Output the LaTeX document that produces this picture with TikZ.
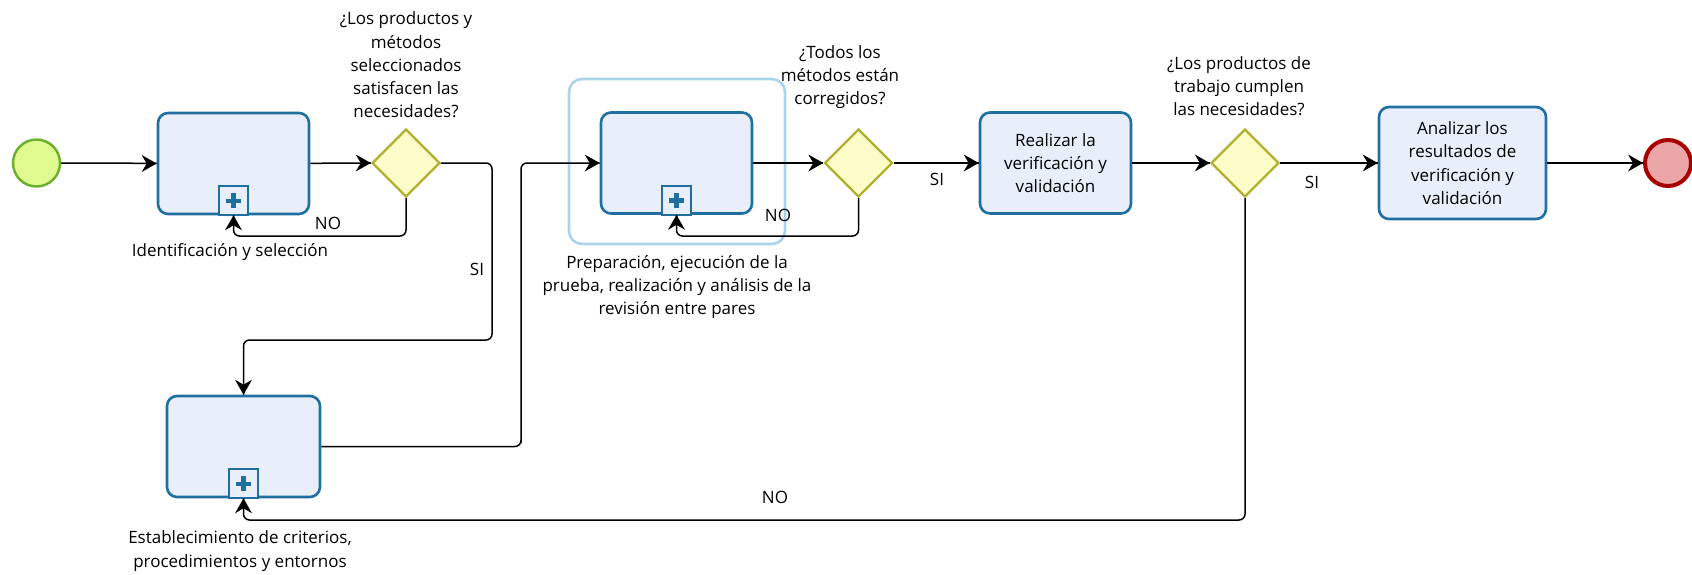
\documentclass[tikz,border=0pt]{standalone}
\usepackage{fontspec}
\setmainfont{Open Sans}
\usetikzlibrary{shapes.geometric}
\definecolor{taskfill}{HTML}{E9EEFB}
\definecolor{taskdraw}{HTML}{1F6FA1}
\definecolor{gwfill}{HTML}{FCFCC8}
\definecolor{gwdraw}{HTML}{B0B030}
\definecolor{stfill}{HTML}{DFFA8F}
\definecolor{stdraw}{HTML}{6AAF2A}
\definecolor{enfill}{HTML}{EBA7A7}
\definecolor{endraw}{HTML}{A80000}
\definecolor{grpdraw}{HTML}{A9D3E8}
\tikzset{
  txt/.style={font=\fontsize{17}{23.3}\selectfont, align=center, inner sep=0pt},
  task/.style={draw=taskdraw, fill=taskfill, line width=2.6pt, rounded corners=10pt,
    minimum width=#1, minimum height=101pt, txt},
  task/.default=151pt,
  gw/.style={diamond, draw=gwdraw, fill=gwfill, line width=2.4pt, minimum width=68pt,
    minimum height=68pt, inner sep=0pt},
  startev/.style={circle, draw=stdraw, fill=stfill, line width=2.4pt, minimum size=47pt, inner sep=0pt},
  endev/.style={circle, draw=endraw, fill=enfill, line width=4pt, minimum size=46pt, inner sep=0pt},
  flow/.style={line width=1.5pt, rounded corners=6pt},
  head/.pic={\fill[black] (0,0) -- (-15,-8.5) -- (-10,0) -- (-15,8.5) -- cycle;},
  subproc/.pic={
    \draw[draw=taskdraw, fill=taskfill, line width=2.2pt] (-14.5,0) rectangle (14.5,-29);
    \fill[taskdraw] (-7.5,-12.2) rectangle (7.5,-16.8);
    \fill[taskdraw] (-2.3,-7) rectangle (2.3,-22);
  }
}
\begin{document}
\begin{tikzpicture}[x=1pt, y=-1pt]
\useasboundingbox (0,0) rectangle (1692,574);
% group highlight
\draw[grpdraw, line width=2.6pt, rounded corners=13pt] (569,79) rectangle (785,244);
% events and tasks
\node[startev] (start) at (36.5,163) {};
\node[task] (t1) at (233.5,163.5) {};
\node[gw] (d1) at (406,163) {};
\node[task] (t2) at (676.5,163) {};
\node[gw] (d2) at (858.5,163) {};
\node[task] (t4) at (1055.5,163) {Realizar la\\verificación y\\validación};
\node[gw] (d3) at (1245,163) {};
\node[task=167pt, minimum height=112pt] (t5) at (1462.5,163) {Analizar los\\resultados de\\verificación y\\validación};
\node[endev] (end) at (1668,163) {};
\node[task=153pt] (t3) at (243.5,446.5) {};
\pic at (t1.south) {subproc};
\pic at (t2.south) {subproc};
\pic at (t3.south) {subproc};
% labels
\node[txt] (q1) at (406,65) {¿Los productos y\\métodos\\seleccionados\\satisfacen las\\necesidades?};
\node[txt] (q2) at (840,77) {¿Todos los\\métodos están\\corregidos?};
\node[txt] (q3) at (1239,86) {¿Los productos de\\trabajo cumplen\\las necesidades?};
\node[txt] (l1) at (230,252) {Identificación y selección};
\node[txt] (l2) at (677,287) {Preparación, ejecución de la\\prueba, realización y análisis de la\\revisión entre pares};
\node[txt] (l3) at (240,551) {Establecimiento de criterios,\\procedimientos y entornos};
\node[txt] (no1) at (328,223) {NO};
\node[txt] (si1) at (477,269) {SI};
\node[txt] (no2) at (778,215) {NO};
\node[txt] (si2) at (937,179) {SI};
\node[txt] (si3) at (1312,182) {SI};
\node[txt] (no3) at (775,497) {NO};
% connectors
\coordinate (c1) at (492,340);
\coordinate (c2) at (521,446.5);
\draw[flow] (start) -- (t1);
\draw[flow] (t1) -- (d1);
\draw[flow] (d1.south) |- (233.5,236) -- (t1.south);
\draw[flow] (d1.east) -| (c1) -| (t3.north);
\draw[flow] (t3.east) -| (c2) |- (t2.west);
\draw[flow] (t2) -- (d2);
\draw[flow] (d2.south) |- (676.5,236) -- (t2.south);
\draw[flow] (d2) -- (t4);
\draw[flow] (t4) -- (d3);
\draw[flow] (d3) -- (t5);
\draw[flow] (t5) -- (end);
\draw[flow] (d3.south) |- (243.5,520) -- (t3.south);
% arrowheads
\pic at (t1.west) {head};
\pic at (d1.west) {head};
\pic at (t2.west) {head};
\pic at (d2.west) {head};
\pic at (t4.west) {head};
\pic at (d3.west) {head};
\pic at (t5.west) {head};
\pic at (end.west) {head};
\pic[rotate=90] at (t1.south) {head};
\pic[rotate=90] at (t2.south) {head};
\pic[rotate=90] at (t3.south) {head};
\pic[rotate=-90] at (t3.north) {head};
\end{tikzpicture}
\end{document}
